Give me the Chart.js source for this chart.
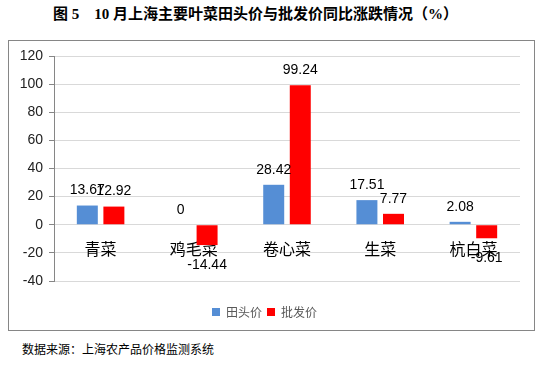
<!DOCTYPE html>
<html>
<head>
<meta charset="utf-8">
<script src="https://cdn.jsdelivr.net/npm/chart.js@4"></script>
<style>
  body { margin: 0; width: 544px; height: 365px; background: #fff; position: relative; overflow: hidden; }
  #titulo { position: absolute; left: 53px; top: 4px; font: bold 15px/20px "Liberation Serif", "Noto Sans CJK SC", serif; color: #000; white-space: pre; }
  #caixa { position: absolute; left: 8px; top: 40px; width: 525px; height: 289px; border: 1px solid #868686; }
  #fonte { position: absolute; left: 22px; top: 341px; font: 12px/16px "Noto Sans CJK SC", sans-serif; color: #000; }
</style>
</head>
<body>
<div id="titulo">图 5　10 月上海主要叶菜田头价与批发价同比涨跌情况（%）</div>
<div id="caixa"><canvas id="grafico" width="525" height="289"></canvas></div>
<div id="fonte">数据来源：上海农产品价格监测系统</div>
<script>
const categorias = ['青菜', '鸡毛菜', '卷心菜', '生菜', '杭白菜'];
const tianTouJia = [13.67, 0, 28.42, 17.51, 2.08];
const piFaJia = [12.92, -14.44, 99.24, 7.77, -9.61];
const eixoY = { min: -40, max: 120, passo: 20 };

// rótulos de valor em cima / embaixo das barras
const rotulos = {
  id: 'rotulos',
  afterDraw(chart) {
    const ctx = chart.ctx;
    ctx.save();
    ctx.font = '14px "Liberation Sans", sans-serif';
    ctx.fillStyle = '#000';
    ctx.textAlign = 'center';
    ctx.textBaseline = 'middle';
    chart.data.datasets.forEach((ds, i) => {
      chart.getDatasetMeta(i).data.forEach((bar, j) => {
        const v = ds.data[j];
        const y = v >= 0 ? bar.y - 15 : bar.y + 20;
        ctx.fillText(String(v), bar.x, y);
      });
    });
    ctx.restore();
  }
};

let ctx = document.getElementById('grafico').getContext('2d');

let grafico = new Chart(ctx, {
  type: 'bar',
  data: {
    labels: categorias,
    datasets: [{
      label: '田头价',
      data: tianTouJia,
      backgroundColor: '#558ed5',
      categoryPercentage: 0.57,
      barPercentage: 0.79
    }, {
      label: '批发价',
      data: piFaJia,
      backgroundColor: '#ff0000',
      categoryPercentage: 0.57,
      barPercentage: 0.79
    }]
  },
  options: {
    responsive: false,
    animation: false,
    layout: {
      padding: { top: 15, right: 14, bottom: 2, left: 0 }
    },
    plugins: {
      legend: {
        position: 'bottom',
        labels: {
          boxWidth: 8,
          boxHeight: 8,
          padding: 5,
          color: '#595959',
          font: { size: 12, family: '"Noto Sans CJK SC", sans-serif' }
        }
      },
      tooltip: { enabled: false }
    },
    scales: {
      x: {
        type: 'category',
        position: { y: 0 },
        z: 1, // nomes por cima das barras
        grid: { display: false, drawTicks: false },
        border: { display: false },
        ticks: {
          color: '#000',
          padding: 15,
          font: { size: 16, family: '"Noto Sans CJK SC", sans-serif' }
        }
      },
      // eixo vazio só para reservar espaço entre a área e a legenda
      x2: {
        type: 'category',
        labels: categorias,
        position: 'bottom',
        grid: { display: false },
        border: { display: false },
        ticks: { display: false },
        afterFit: (s) => { s.height = 20; }
      },
      y: {
        min: eixoY.min,
        max: eixoY.max,
        ticks: {
          stepSize: eixoY.passo,
          color: '#222',
          padding: 6,
          font: { size: 14, family: '"Liberation Sans", sans-serif' }
        },
        grid: {
          color: '#d9d9d9',
          tickColor: '#868686',
          tickLength: 5
        },
        border: { color: '#868686' },
        afterFit: (s) => { s.width = 45; }
      }
    }
  },
  plugins: [rotulos]
});
</script>
</body>
</html>
